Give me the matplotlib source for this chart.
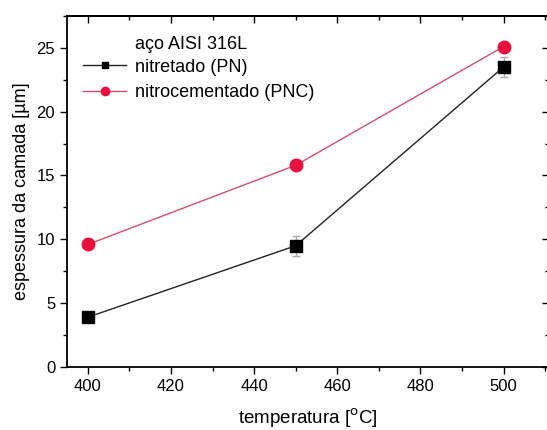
import numpy as np
import matplotlib
matplotlib.use("Agg")
import matplotlib.pyplot as plt
from matplotlib.lines import Line2D
from matplotlib.ticker import MultipleLocator

plt.rcParams["font.family"] = ["Liberation Sans", "DejaVu Sans"]

# data
temperatura = [400, 450, 500]
pn_espessura = [3.9, 9.5, 23.5]
pn_erro = [0.3, 0.8, 0.8]
pnc_espessura = [9.6, 15.8, 25.1]
pnc_erro = [0.2, 0.3, 0.3]

pn_cor = "#222222"
pnc_linha = "#d0506a"
pnc_marca = "#e8103c"

fig = plt.figure(figsize=(5.47, 4.30), dpi=100)
# right spine sits just past the image edge, as in the original (cropped) figure
ax = fig.add_axes([0.1225, 0.1465, 0.881, 0.8165])

ax.errorbar(temperatura, pn_espessura, yerr=pn_erro, color=pn_cor, lw=1.0,
            marker="s", ms=8, mfc="black", mec="black", ecolor="#aaaaaa",
            capsize=3, zorder=3)
ax.errorbar(temperatura, pnc_espessura, yerr=pnc_erro, color=pnc_linha, lw=1.0,
            marker="o", ms=9, mfc=pnc_marca, mec=pnc_marca, ecolor="#e8a0b0",
            capsize=3, zorder=3)

ax.set_xlim(395, 510.9)
ax.set_ylim(0, 27.5)

# bottom/left ticks point out, top/right point in
top = ax.secondary_xaxis("top")
right = ax.secondary_yaxis("right")
for a in (ax.xaxis, top.xaxis):
    a.set_major_locator(MultipleLocator(20))
    a.set_minor_locator(MultipleLocator(10))
for a in (ax.yaxis, right.yaxis):
    a.set_major_locator(MultipleLocator(5))
    a.set_minor_locator(MultipleLocator(2.5))
ax.tick_params(which="both", direction="out", labelsize=12)
top.tick_params(which="both", direction="in", labeltop=False)
right.tick_params(which="both", direction="in", labelright=False)
for a in (ax, top, right):
    a.tick_params(which="major", length=5, width=1)
    a.tick_params(which="minor", length=3, width=1)
for side in ["left", "bottom", "top", "right"]:
    ax.spines[side].set_linewidth(1.3)
top.spines["top"].set_linewidth(1.3)
right.spines["right"].set_linewidth(1.3)

ax.set_xlabel("temperatura [$^\\mathrm{o}$C]", fontsize=13.5, labelpad=9)
ax.set_ylabel("espessura da camada [\u00b5m]", fontsize=13, labelpad=5)

ax.text(0.142, 0.918, "aço AISI 316L", transform=ax.transAxes, fontsize=13,
        va="center", ha="left")
handles = [
    Line2D([], [], color=pn_cor, lw=1.0, marker="s", ms=5, mfc="black", mec="black"),
    Line2D([], [], color=pnc_linha, lw=1.0, marker="o", ms=6, mfc=pnc_marca, mec=pnc_marca),
]
ax.legend(handles, ["nitretado (PN)", "nitrocementado (PNC)"], loc="upper left",
          bbox_to_anchor=(0.033, 0.878), frameon=False, fontsize=13,
          handlelength=2.4, handletextpad=0.5, labelspacing=0.45,
          borderaxespad=0.0, borderpad=0.0)

fig.savefig("out.png", dpi=100)
